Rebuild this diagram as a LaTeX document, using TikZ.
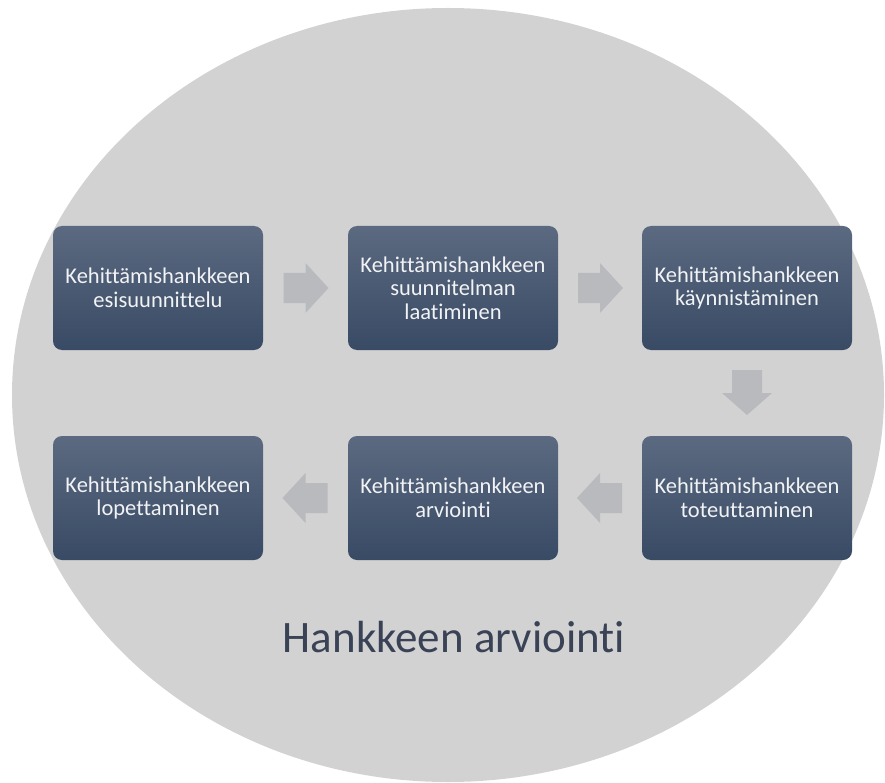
\documentclass[tikz,border=0pt]{standalone}
\usepackage{fontspec}
\setmainfont{Carlito}[Ligatures=NoCommon]
\usetikzlibrary{calc}
\begin{document}
\definecolor{discgray}{HTML}{D2D2D2}
\definecolor{boxtop}{HTML}{5B6A80}
\definecolor{boxbot}{HTML}{394A65}
\definecolor{boxtext}{HTML}{F2F3F5}
\definecolor{arrowgray}{HTML}{B8BABE}
\definecolor{titleink}{HTML}{3A4256}
\begin{tikzpicture}[x=1pt,y=-1pt,
  stepbox/.style={rounded corners=9pt, minimum width=210pt, minimum height=124pt,
    top color=boxtop, bottom color=boxbot, draw=none, align=center,
    text=boxtext, font=\fontsize{22.5}{23.5}\selectfont, inner sep=0pt},
  flowarrow/.style={fill=arrowgray, draw=none}]
\useasboundingbox (0,0) rectangle (885,783);
% background disc
\fill[discgray] (448,395) ellipse [x radius=436, y radius=387];
% process steps
\node[stepbox] (s1) at (158,288) {Kehittämishankkeen\\esisuunnittelu};
\node[stepbox] (s2) at (453,288) {Kehittämishankkeen\\suunnitelman\\laatiminen};
\node[stepbox] (s3) at (747,288) {Kehittämishankkeen\\käynnistäminen};
\node[stepbox] (s4) at (747,498) {Kehittämishankkeen\\toteuttaminen};
\node[stepbox] (s5) at (453,498) {Kehittämishankkeen\\arviointi};
\node[stepbox] (s6) at (158,498) {Kehittämishankkeen\\lopettaminen};
% caption
\node[text=titleink, font=\fontsize{45}{48}\selectfont] (title) at (454,637) {Hankkeen arviointi};
% block arrows between steps
\newcommand{\rarrow}[2]{%
  \fill[flowarrow] ($(#1.east)!0.5!(#2.west)+(-22,-15)$) -- ++(22,0) -- ++(0,-10)
    -- ++(23,25) -- ++(-23,25) -- ++(0,-10) -- ++(-22,0) -- cycle;}
\newcommand{\larrow}[2]{%
  \fill[flowarrow] ($(#1.west)!0.5!(#2.east)+(22,-15)$) -- ++(-22,0) -- ++(0,-10)
    -- ++(-23,25) -- ++(23,25) -- ++(0,-10) -- ++(22,0) -- cycle;}
\newcommand{\darrow}[2]{%
  \fill[flowarrow] ($(#1.south)!0.5!(#2.north)+(-15,-23)$) -- ++(0,23) -- ++(-10,0)
    -- ++(25,22) -- ++(25,-22) -- ++(-10,0) -- ++(0,-23) -- cycle;}
\rarrow{s1}{s2}
\rarrow{s2}{s3}
\darrow{s3}{s4}
\larrow{s4}{s5}
\larrow{s5}{s6}
\end{tikzpicture}
\end{document}
